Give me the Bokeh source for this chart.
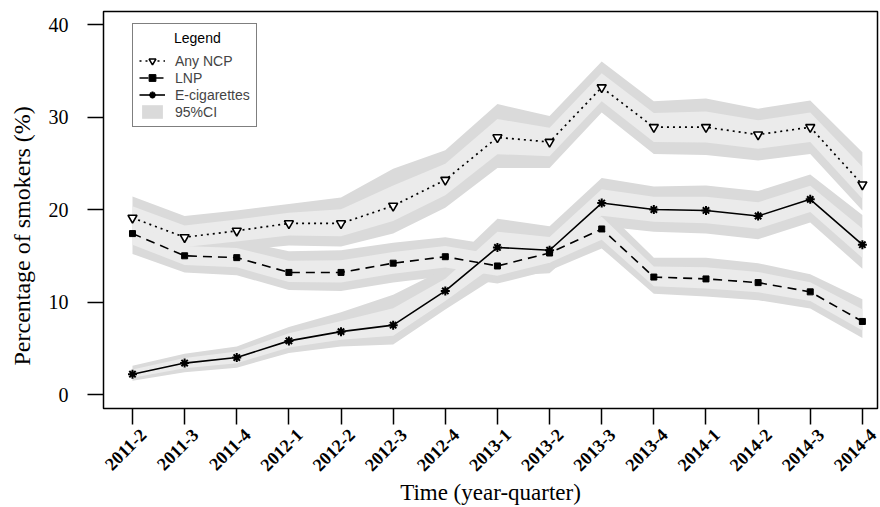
import math
from bokeh.plotting import figure
from bokeh.models import Legend, LegendItem, FixedTicker, Range1d, Title
from bokeh.embed import file_html
from bokeh.resources import INLINE

quarters = ["2011-2", "2011-3", "2011-4", "2012-1", "2012-2", "2012-3", "2012-4",
            "2013-1", "2013-2", "2013-3", "2013-4", "2014-1", "2014-2", "2014-3", "2014-4"]

ncp = [19.1, 17.0, 17.7, 18.5, 18.5, 20.4, 23.2, 27.8, 27.3, 33.2, 28.9, 28.9, 28.1, 28.9, 22.7]
ncp_lo = [16.9, 15.1, 15.6, 16.1, 16.0, 17.4, 20.2, 24.5, 24.5, 30.5, 26.0, 25.9, 25.3, 26.0, 19.9]
ncp_hi = [21.4, 19.3, 19.9, 20.6, 21.3, 24.4, 26.4, 31.4, 30.1, 36.0, 31.7, 32.0, 30.9, 31.8, 26.2]

lnp = [17.4, 15.0, 14.8, 13.2, 13.2, 14.2, 14.9, 13.9, 15.3, 17.9, 12.7, 12.5, 12.1, 11.1, 7.9]
lnp_lo = [15.2, 13.2, 12.9, 11.3, 11.2, 12.1, 12.8, 12.0, 13.4, 15.8, 10.9, 10.6, 10.2, 9.3, 6.1]
lnp_hi = [19.4, 16.9, 16.7, 15.5, 15.6, 16.4, 17.0, 16.1, 17.4, 20.3, 14.8, 14.8, 14.2, 13.0, 10.3]

ecig = [2.2, 3.4, 4.0, 5.8, 6.8, 7.5, 11.2, 15.9, 15.6, 20.7, 20.0, 19.9, 19.3, 21.1, 16.2]
ecig_lo = [1.5, 2.4, 2.9, 4.5, 5.2, 5.4, 9.2, 12.8, 13.1, 18.2, 17.6, 17.4, 16.8, 18.6, 13.6]
ecig_hi = [3.1, 4.4, 5.2, 7.3, 8.9, 10.8, 13.6, 19.0, 18.2, 23.4, 22.5, 22.6, 22.0, 23.8, 19.4]

y_ticks = [0, 10, 20, 30, 40]

x = list(range(len(quarters)))
SHADE = 0.55       # fraction of CI half-width drawn in the lighter inner tone
LABEL_SHIFT = 0.2  # rotated tick labels sit slightly right of their tick (R style)


def inner(c, lo, hi):
    return ([ci - SHADE * (ci - l) for ci, l in zip(c, lo)],
            [ci + SHADE * (h - ci) for ci, h in zip(c, hi)])


p = figure(width=880, height=507,
           x_range=Range1d(-0.556, 14.29), y_range=Range1d(-1.51, 41.41),
           output_backend="svg", toolbar_location=None,
           min_border_left=103, min_border_right=3, min_border_top=11, min_border_bottom=99)
p.grid.visible = False
p.outline_line_color = "black"
p.outline_line_width = 1.5
p.background_fill_color = "white"

OUTER = "#dadada"
INNER = "#ebebeb"
series = [(ncp, ncp_lo, ncp_hi), (lnp, lnp_lo, lnp_hi), (ecig, ecig_lo, ecig_hi)]
outer_r = []
for c, lo, hi in series:
    outer_r.append(p.varea(x=x, y1=lo, y2=hi, fill_color=OUTER))
for c, lo, hi in series:
    ilo, ihi = inner(c, lo, hi)
    p.varea(x=x, y1=ilo, y2=ihi, fill_color=INNER)

l_ncp = p.line(x, ncp, line_color="black", line_width=1.7, line_dash="2 4")
s_ncp = p.scatter(x, ncp, marker="inverted_triangle", size=9, fill_color="white",
                  line_color="black", line_width=1.6)
l_lnp = p.line(x, lnp, line_color="black", line_width=1.6, line_dash="9 6")
s_lnp = p.scatter(x, lnp, marker="square", size=6, fill_color="black", line_color="black")
l_ec = p.line(x, ecig, line_color="black", line_width=1.6)
s_ec = p.scatter(x, ecig, marker="asterisk", size=9, line_color="black", line_width=2)

# x axis: labels at shifted major positions, tick marks as minor ticks at the quarters
label_pos = [i + LABEL_SHIFT for i in x]
xa = p.xaxis[0]
xa.ticker = FixedTicker(ticks=label_pos, minor_ticks=x)
xa.major_label_overrides = {lp: q for lp, q in zip(label_pos, quarters)}
xa.major_label_orientation = math.pi / 4
xa.major_label_text_font = "Liberation Serif"
xa.major_label_text_font_style = "bold"
xa.major_label_text_font_size = "18px"
xa.major_label_text_color = "black"
xa.major_label_standoff = 7
xa.axis_line_color = None
xa.major_tick_line_color = None
xa.major_tick_out = 0
xa.major_tick_in = 0
xa.minor_tick_out = 16
xa.minor_tick_in = 0
xa.minor_tick_line_width = 1.5
xa.minor_tick_line_color = "black"
xa.axis_label = "Time (year-quarter)"
xa.axis_label_text_font = "Liberation Serif"
xa.axis_label_text_font_size = "23px"
xa.axis_label_text_font_style = "normal"
xa.axis_label_text_color = "black"
xa.axis_label_standoff = 0

ya = p.yaxis[0]
ya.ticker = FixedTicker(ticks=y_ticks)
ya.major_label_orientation = "horizontal"
ya.major_label_text_font = "Liberation Serif"
ya.major_label_text_font_size = "20px"
ya.major_label_text_color = "black"
ya.major_label_standoff = 19
ya.axis_line_color = None
ya.major_tick_out = 16
ya.major_tick_in = 0
ya.major_tick_line_width = 1.5
ya.major_tick_line_color = "black"
ya.minor_tick_line_color = None

p.add_layout(Title(text="Percentage of smokers (%)", align="left", offset=43,
                   vertical_align="top",
                   text_font="Liberation Serif", text_font_size="24px",
                   text_font_style="normal", text_color="black", standoff=17), "left")

legend = Legend(items=[
    LegendItem(label="Any NCP", renderers=[l_ncp, s_ncp]),
    LegendItem(label="LNP", renderers=[l_lnp, s_lnp]),
    LegendItem(label="E-cigarettes", renderers=[l_ec, s_ec]),
    LegendItem(label="95%CI", renderers=[outer_r[0]]),
], location=(29, 281), title="\u00a0" * 9 + "Legend")
legend.border_line_color = "black"
legend.border_line_width = 1.5
legend.background_fill_color = "white"
legend.background_fill_alpha = 1
legend.label_text_font = "Liberation Sans"
legend.label_text_font_size = "14px"
legend.title_text_font = "Liberation Sans"
legend.title_text_font_size = "14px"
legend.title_text_font_style = "normal"
legend.title_text_color = "black"
legend.glyph_width = 26
legend.glyph_height = 17
legend.label_height = 17
legend.spacing = 0
legend.padding = 6
legend.label_standoff = 10
legend.title_standoff = 6
legend.margin = 0
p.add_layout(legend)

open("out.html", "w").write(file_html(p, INLINE))
